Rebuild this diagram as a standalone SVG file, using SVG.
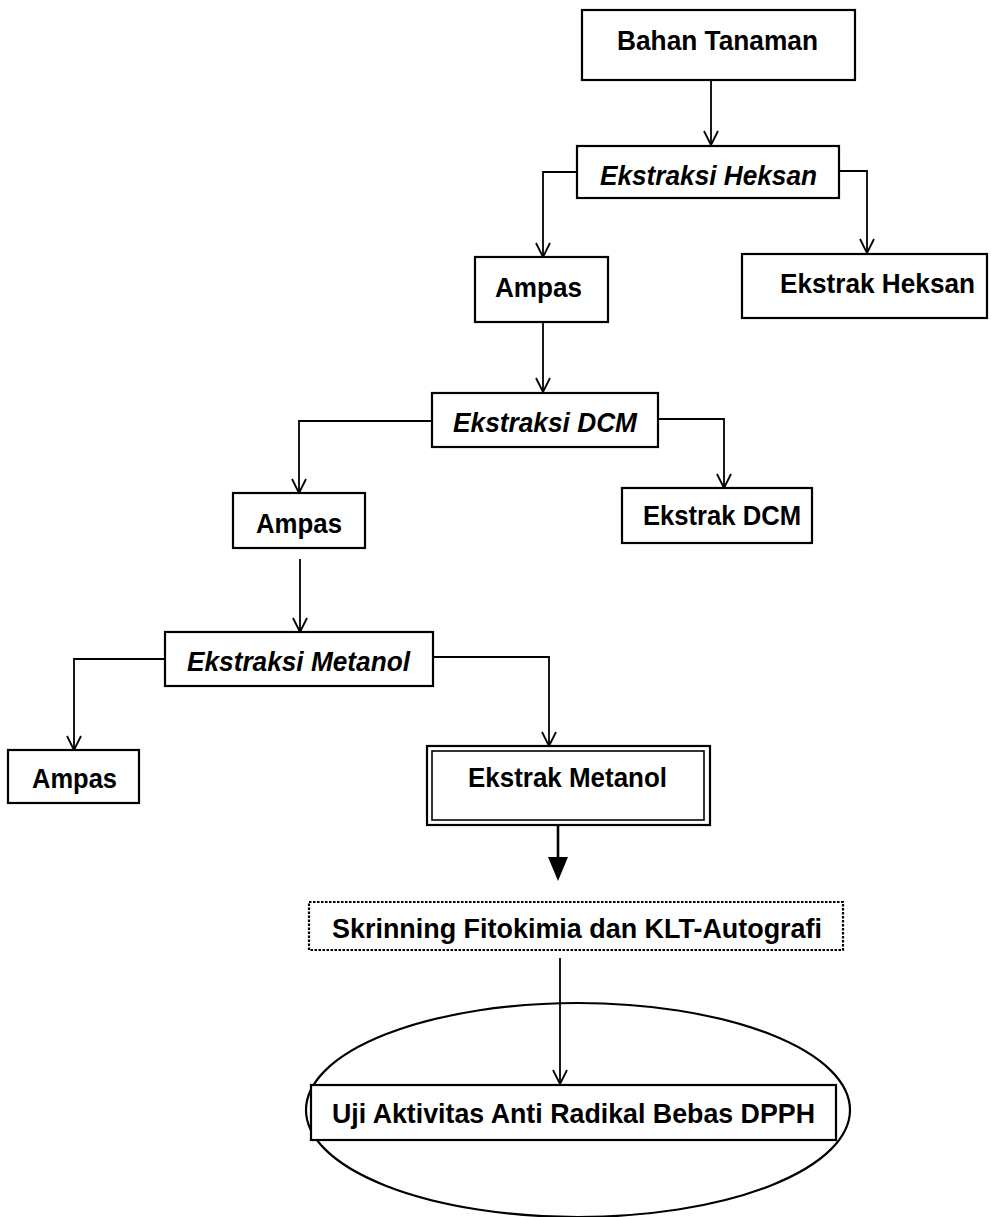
<svg xmlns="http://www.w3.org/2000/svg" width="991" height="1217" viewBox="0 0 991 1217">
<defs>
<style>
.box{fill:#fff;stroke:#000;stroke-width:2.2}
.t{font-family:"Liberation Sans",Arial,sans-serif;font-weight:bold;font-size:28px;fill:#000}
.i{font-style:italic}
.c{fill:none;stroke:#000;stroke-width:1.8}
</style>
<marker id="v" viewBox="0 0 16 16" refX="15" refY="8" markerWidth="16" markerHeight="16" markerUnits="userSpaceOnUse" orient="auto">
<path d="M1,1 L15,8 L1,15" fill="none" stroke="#000" stroke-width="1.8"/>
</marker>
</defs>
<rect width="991" height="1217" fill="#fff"/>
<ellipse id="ellipse" cx="578" cy="1110" rx="272" ry="107" fill="none" stroke="#000" stroke-width="2.2"/>
<g id="connectors">
<path class="c" d="M711,80 V145" marker-end="url(#v)"/>
<path class="c" d="M577,172 H543 V257" marker-end="url(#v)"/>
<path class="c" d="M839,171 H867 V253" marker-end="url(#v)"/>
<path class="c" d="M543,322 V392" marker-end="url(#v)"/>
<path class="c" d="M432,421 H299 V493" marker-end="url(#v)"/>
<path class="c" d="M658,419 H724 V488" marker-end="url(#v)"/>
<path class="c" d="M300,559 V632" marker-end="url(#v)"/>
<path class="c" d="M165,659 H74 V750" marker-end="url(#v)"/>
<path class="c" d="M433,657 H549 V746" marker-end="url(#v)"/>
<path d="M558,825 V860" fill="none" stroke="#000" stroke-width="2.6"/>
<path d="M548,857 L568,857 L558,881 Z" fill="#000"/>
<path class="c" d="M560,958 V1084" marker-end="url(#v)"/>
</g>
<g id="bahan"><rect class="box" x="582" y="10" width="273" height="70"/><text class="t" x="617" y="50" textLength="201" lengthAdjust="spacingAndGlyphs">Bahan Tanaman</text></g>
<g id="ekstraksi-heksan"><rect class="box" x="577" y="146" width="262" height="52"/><text class="t i" x="600" y="185" textLength="217" lengthAdjust="spacingAndGlyphs">Ekstraksi Heksan</text></g>
<g id="ampas1"><rect class="box" x="475" y="257" width="133" height="65"/><text class="t" x="495" y="297" textLength="87" lengthAdjust="spacingAndGlyphs">Ampas</text></g>
<g id="ekstrak-heksan"><rect class="box" x="742" y="254" width="245" height="64"/><text class="t" x="780" y="293" textLength="195" lengthAdjust="spacingAndGlyphs">Ekstrak Heksan</text></g>
<g id="ekstraksi-dcm"><rect class="box" x="432" y="393" width="226" height="54"/><text class="t i" x="453" y="432" textLength="184" lengthAdjust="spacingAndGlyphs">Ekstraksi DCM</text></g>
<g id="ampas2"><rect class="box" x="233" y="493" width="132" height="55"/><text class="t" x="256" y="533" textLength="86" lengthAdjust="spacingAndGlyphs">Ampas</text></g>
<g id="ekstrak-dcm"><rect class="box" x="622" y="488" width="190" height="55"/><text class="t" x="643" y="525" textLength="158" lengthAdjust="spacingAndGlyphs">Ekstrak DCM</text></g>
<g id="ekstraksi-metanol"><rect class="box" x="165" y="632" width="268" height="54"/><text class="t i" x="187" y="671" textLength="223" lengthAdjust="spacingAndGlyphs">Ekstraksi Metanol</text></g>
<g id="ampas3"><rect class="box" x="8" y="750" width="131" height="53"/><text class="t" x="32" y="788" textLength="85" lengthAdjust="spacingAndGlyphs">Ampas</text></g>
<g id="ekstrak-metanol"><rect class="box" x="427" y="746" width="283" height="79" stroke-width="2.6"/><rect x="432" y="751" width="272" height="69" fill="none" stroke="#000" stroke-width="1.6"/><text class="t" x="468" y="787" textLength="199" lengthAdjust="spacingAndGlyphs">Ekstrak Metanol</text></g>
<g id="skrinning"><rect x="309" y="902" width="534" height="48" fill="#fff" stroke="#000" stroke-width="2.2" stroke-dasharray="2.5 1.5"/><text class="t" x="332" y="938" textLength="490" lengthAdjust="spacingAndGlyphs">Skrinning Fitokimia dan KLT-Autografi</text></g>
<g id="uji"><rect class="box" x="311" y="1085" width="525" height="55"/><text class="t" x="332" y="1123" textLength="483" lengthAdjust="spacingAndGlyphs">Uji Aktivitas Anti Radikal Bebas DPPH</text></g>
</svg>
